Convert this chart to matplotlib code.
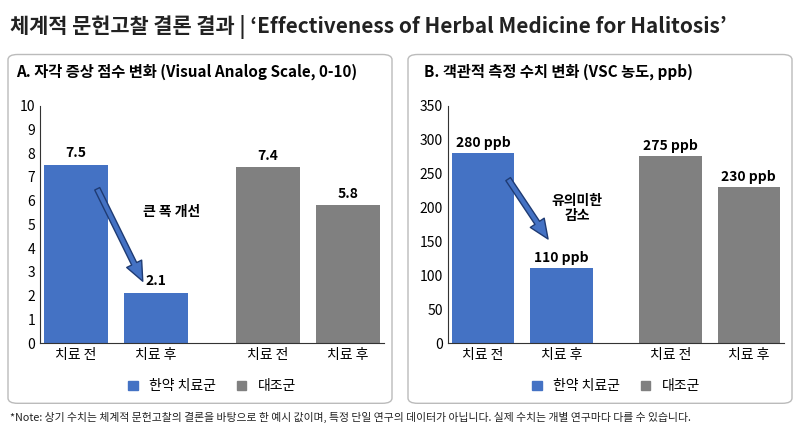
import matplotlib
matplotlib.use("Agg")
import matplotlib.pyplot as plt
from matplotlib.patches import FancyBboxPatch, FancyArrowPatch

plt.rcParams['font.family'] = ['Noto Sans CJK KR', 'DejaVu Sans']

categories = ["치료 전", "치료 후", "치료 전", "치료 후"]
positions = [0, 1, 2.4, 3.4]
vas_values = [7.5, 2.1, 7.4, 5.8]
vas_labels = ["7.5", "2.1", "7.4", "5.8"]
vsc_values = [280, 110, 275, 230]
vsc_labels = ["280 ppb", "110 ppb", "275 ppb", "230 ppb"]
series = ["한약 치료군", "대조군"]
BLUE = "#4472C4"
GRAY = "#808080"
colors = [BLUE, BLUE, GRAY, GRAY]

fig = plt.figure(figsize=(8, 4.36), dpi=100)
fig.text(0.012, 0.965, "체계적 문헌고찰 결론 결과 | ‘Effectiveness of Herbal Medicine for Halitosis’",
         fontsize=15, fontweight="bold", va="top", color="#222222")
fig.text(0.012, 0.03, "*Note: 상기 수치는 체계적 문헌고찰의 결론을 바탕으로 한 예시 값이며, 특정 단일 연구의 데이터가 아닙니다. 실제 수치는 개별 연구마다 다를 수 있습니다.",
         fontsize=7.8, va="bottom", color="#222222")

for x0 in (0.01, 0.51):
    box = FancyBboxPatch((x0, 0.075), 0.48, 0.80, boxstyle="round,pad=0,rounding_size=0.012",
                         transform=fig.transFigure, fc="white", ec="#bbbbbb", lw=1, zorder=-1)
    fig.patches.append(box)

def panel(rect, title, values, labels, ymax, step, fmt_off):
    ax = fig.add_axes(rect)
    ax.set_zorder(2)
    ax.patch.set_alpha(0)
    ax.bar(positions, values, width=0.8, color=colors)
    for p, v, l in zip(positions, values, labels):
        ax.text(p, v + fmt_off, l, ha="center", va="bottom", fontsize=10, fontweight="bold")
    ax.set_ylim(0, ymax)
    ax.set_yticks(range(0, ymax + 1, step))
    ax.set_xlim(-0.45, 3.85)
    ax.set_xticks(positions)
    ax.set_xticklabels(categories, fontsize=10)
    ax.tick_params(length=0, labelsize=10)
    for s in ("top", "right"):
        ax.spines[s].set_visible(False)
    ax.spines["left"].set_color("#333333")
    ax.spines["bottom"].set_color("#333333")
    fig.text(rect[0] - 0.03, 0.855, title, fontsize=11, fontweight="bold", va="top", zorder=3)
    h = [plt.Rectangle((0, 0), 1, 1, color=c) for c in (BLUE, GRAY)]
    ax.legend(h, series, loc="upper center", bbox_to_anchor=(0.5, -0.1), ncol=2, frameon=False,
              fontsize=10, handlelength=0.7, handleheight=0.7, columnspacing=1.5)
    return ax

a1 = panel([0.05, 0.213, 0.43, 0.545], "A. 자각 증상 점수 변화 (Visual Analog Scale, 0-10)",
           vas_values, vas_labels, 10, 1, 0.2)
a1.add_patch(FancyArrowPatch((0.25, 6.6), (0.85, 2.5), arrowstyle="simple,head_width=12,head_length=14,tail_width=4",
                             fc=BLUE, ec="#1f3b73", lw=1))
a1.text(1.2, 5.5, "큰 폭 개선", ha="center", va="center", fontsize=10, fontweight="bold")

a2 = panel([0.56, 0.213, 0.42, 0.545], "B. 객관적 측정 수치 변화 (VSC 농도, ppb)",
           vsc_values, vsc_labels, 350, 50, 5)
a2.add_patch(FancyArrowPatch((0.3, 245), (0.85, 150), arrowstyle="simple,head_width=12,head_length=14,tail_width=4",
                             fc=BLUE, ec="#1f3b73", lw=1))
a2.text(1.2, 198, "유의미한\n감소", ha="center", va="center", fontsize=10, fontweight="bold", linespacing=1.1)

fig.savefig("out.png", dpi=100)
